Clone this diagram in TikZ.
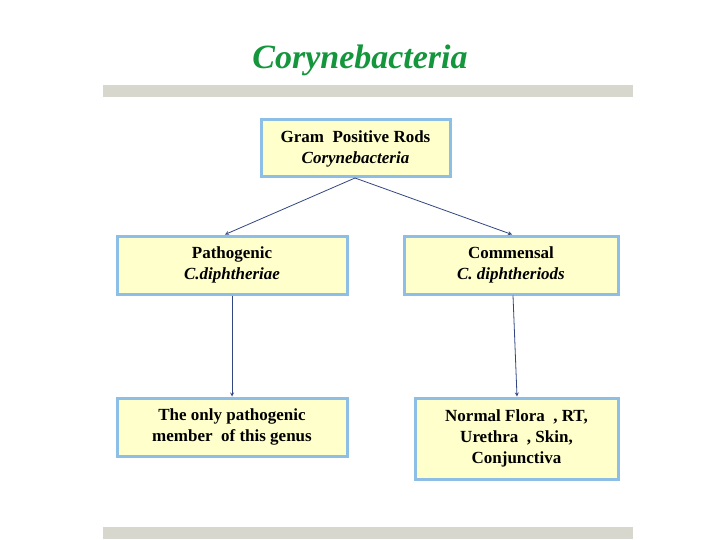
\documentclass[tikz,border=0pt]{standalone}
\usepackage{fontspec}
\setmainfont{Liberation Serif}
\begin{document}
\begin{tikzpicture}[x=1pt,y=-1pt,
  bx/.style={draw=boxblue,fill=boxyellow,line width=3pt,inner sep=0pt,align=center,font=\fontsize{17}{21}\selectfont\bfseries},
  arr/.style={draw=arrblue,line width=0.8pt,-stealth}]
\definecolor{boxblue}{RGB}{140,190,230}
\definecolor{boxyellow}{RGB}{255,255,204}
\definecolor{arrblue}{RGB}{50,70,130}
\definecolor{bargray}{RGB}{215,215,205}
\definecolor{titlegreen}{RGB}{20,150,60}
\useasboundingbox[fill=white] (0,0) rectangle (720,540);
\fill[bargray] (103,85) rectangle (633,97);
\fill[bargray] (103,527) rectangle (633,539);
\node[font=\fontsize{34}{40}\selectfont\bfseries\itshape,text=titlegreen] (title) at (360,60) {Corynebacteria};
\node[bx,minimum width=189,minimum height=57] (top) at (355.5,148.5) {Gram\ \ Positive Rods\\\textit{Corynebacteria}};
\node[bx,minimum width=230,minimum height=58] (path) at (232,265) {Pathogenic\\\textit{C.diphtheriae}};
\node[bx,minimum width=214,minimum height=58] (comm) at (511,265) {Commensal\\\textit{C. diphtheriods}};
\node[bx,minimum width=230,minimum height=58] (only) at (232,427) {The only pathogenic\\member\ \ of this genus};
\node[bx,minimum width=203,minimum height=81] (norm) at (516.5,438.5) {Normal Flora\ \ , RT,\\Urethra\ \ , Skin,\\Conjunctiva};
\coordinate (tb) at (355,178);
\draw[arr] (tb) -- (225,234.5);
\draw[arr] (tb) -- (512,234.5);
\draw[arr] (232,295.5) -- (only.north);
\draw[arr] (513,295.5) -- (517,396.5);
\end{tikzpicture}
\end{document}
